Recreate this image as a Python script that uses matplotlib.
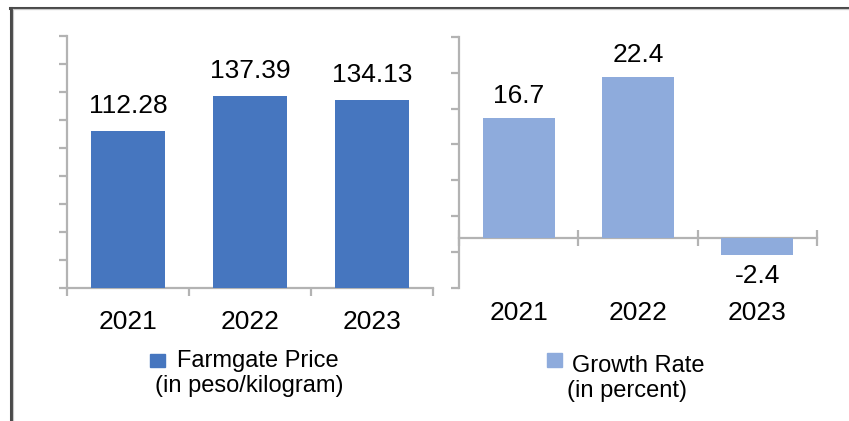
import numpy as np
import matplotlib.pyplot as plt
from matplotlib.patches import Rectangle

plt.rcParams['font.family'] = ['Liberation Sans', 'DejaVu Sans']

years = ['2021', '2022', '2023']
price = [112.28, 137.39, 134.13]
growth = [16.7, 22.4, -2.4]
price_lbl = ['112.28', '137.39', '134.13']
growth_lbl = ['16.7', '22.4', '-2.4']

W, H = 849, 421
fig = plt.figure(figsize=(W / 100, H / 100), dpi=100)

def fx(px):
    return px / W

def fy(py):
    return 1 - py / H

axis_col = '#b3b3b3'
dark_blue = '#4676bf'
light_blue = '#8eabdc'
PT = 0.72  # points per pixel
FS = 19

# outer frame (only left and top visible)
fig.add_artist(plt.Line2D([fx(11), fx(11)], [0, fy(7.5)], color='#4a4a4a', lw=2.2))
fig.add_artist(plt.Line2D([fx(10), 1], [fy(7.5), fy(7.5)], color='#4a4a4a', lw=2.2))
fig.add_artist(plt.Line2D([fx(12.8), fx(12.8)], [0, fy(9.3)], color='#c8c8c8', lw=0.8))
fig.add_artist(plt.Line2D([fx(12.8), 1], [fy(9.3), fy(9.3)], color='#c8c8c8', lw=0.8))


def style_axes(ax):
    for s in ['top', 'right']:
        ax.spines[s].set_visible(False)
    for s in ['left', 'bottom']:
        ax.spines[s].set_color(axis_col)
        ax.spines[s].set_linewidth(1.6)
    ax.set_facecolor('none')
    ax.set_xlim(-0.5, 2.5)
    ax.set_xticks([-0.5, 0.5, 1.5, 2.5])
    ax.set_xticklabels([])
    ax.tick_params(axis='both', color=axis_col, width=1.6, length=8 * PT, direction='out')
    ax.set_yticklabels([])


# left panel: farmgate price
ax1 = fig.add_axes([fx(67), fy(288), fx(433) - fx(67), fy(36) - fy(288)])
style_axes(ax1)
ax1.set_ylim(0, 180)
ax1.set_yticks(np.arange(0, 181, 20))
ax1.set_yticklabels([])
ax1.bar(range(3), price, width=0.6, color=dark_blue, zorder=3)
for i, (v, t) in enumerate(zip(price, price_lbl)):
    ax1.annotate(t, xy=(i, v), xytext=(0, 18 * PT), textcoords='offset points',
                 ha='center', va='baseline', fontsize=FS)
for i, y in enumerate(years):
    ax1.annotate(y, xy=(i, 0), xycoords=('data', 'axes fraction'), xytext=(0, -41 * PT),
                 textcoords='offset points', ha='center', va='baseline', fontsize=FS)

# right panel: growth rate
ax2 = fig.add_axes([fx(459.3), fy(287.7), fx(816.7) - fx(459.3), fy(37) - fy(287.7)])
style_axes(ax2)
ax2.set_ylim(-7, 28)
ax2.set_yticks(np.arange(-7, 29, 5))
ax2.set_yticklabels([])
ax2.spines['bottom'].set_position(('data', 0))
ax2.tick_params(axis='x', direction='inout', length=16 * PT)
ax2.bar(range(3), growth, width=0.61, color=light_blue, zorder=3)
for i, (v, t) in enumerate(zip(growth, growth_lbl)):
    off = 15 if v >= 0 else -28
    ax2.annotate(t, xy=(i, v), xytext=(0, off * PT), textcoords='offset points',
                 ha='center', va='baseline', fontsize=FS)
for i, y in enumerate(years):
    ax2.annotate(y, xy=(i, 0), xycoords=('data', 'axes fraction'), xytext=(0, -32.3 * PT),
                 textcoords='offset points', ha='center', va='baseline', fontsize=FS)

# legends
fig.add_artist(Rectangle((fx(150), fy(367.3)), fx(15), fy(354) - fy(367.3), color=dark_blue,
                         transform=fig.transFigure))
fig.text(fx(176.7), fy(366.7), 'Farmgate Price', ha='left', va='baseline', fontsize=17)
fig.text(fx(155), fy(391.7), '(in peso/kilogram)', ha='left', va='baseline', fontsize=17)

fig.add_artist(Rectangle((fx(546.5), fy(366.7)), fx(15), fy(353.3) - fy(366.7), color=light_blue,
                         transform=fig.transFigure))
fig.text(fx(571.7), fy(371.7), 'Growth Rate', ha='left', va='baseline', fontsize=17)
fig.text(fx(567.3), fy(397.3), '(in percent)', ha='left', va='baseline', fontsize=17)

fig.savefig('out.png', dpi=100)
